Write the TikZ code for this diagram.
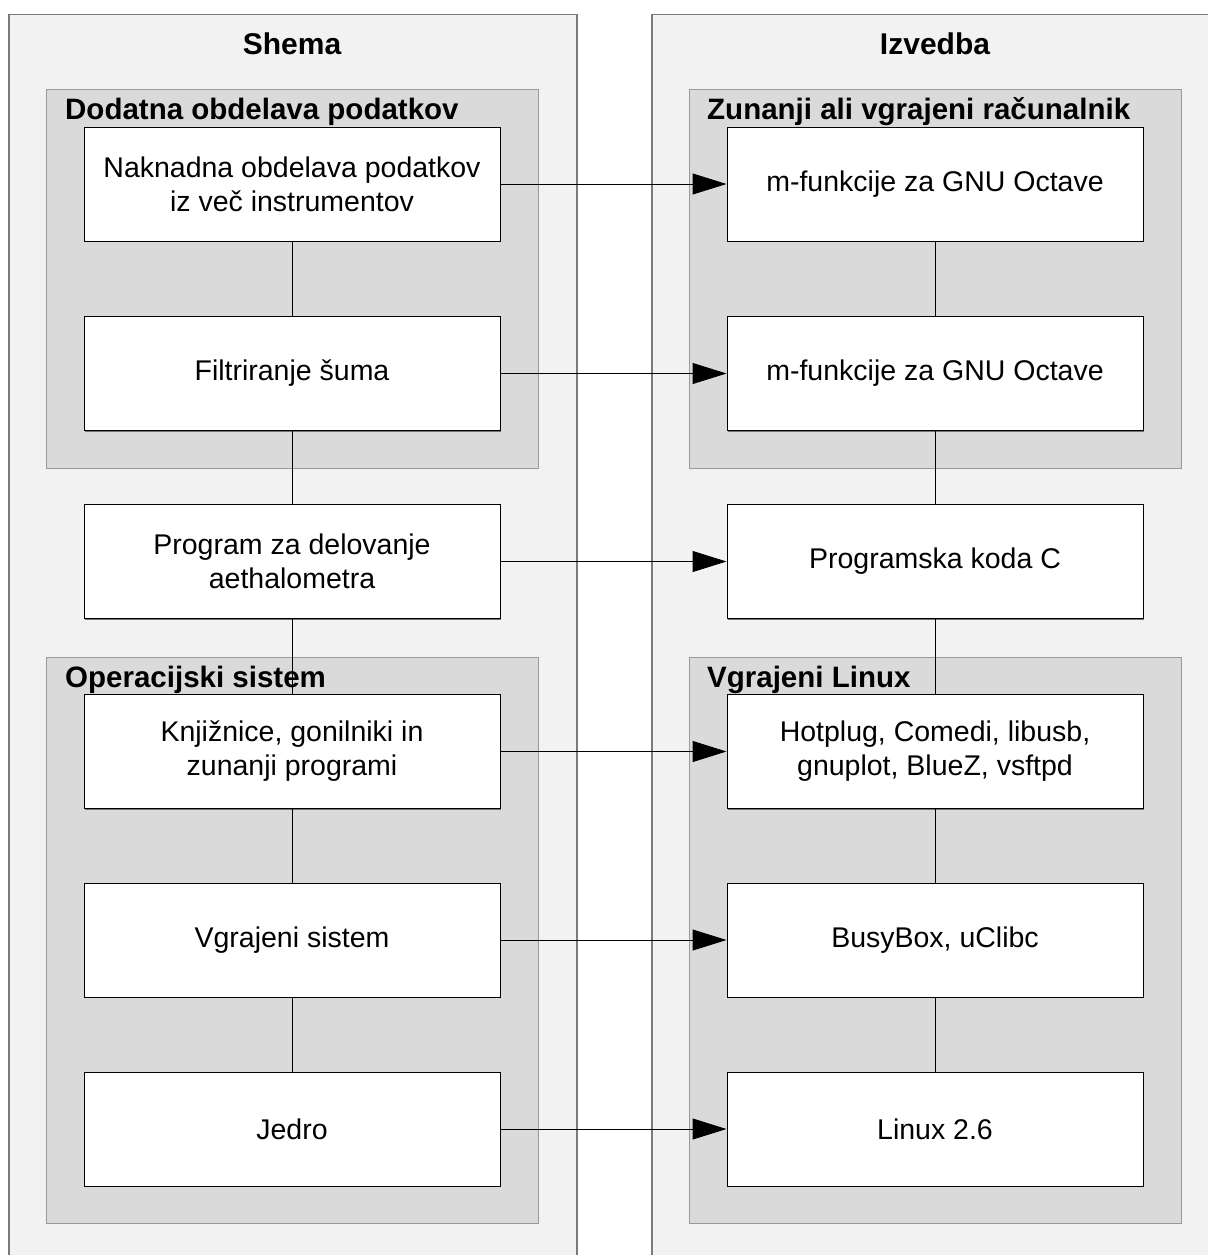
\documentclass[tikz,border=0pt]{standalone}
\usepackage{fontspec}
\setmainfont{Liberation Sans}
\usetikzlibrary{arrows.meta,shadows}
\definecolor{panelfill}{HTML}{F2F2F2}
\definecolor{panelline}{HTML}{7A7A7A}
\definecolor{grpfill}{HTML}{DADADA}
\definecolor{grpline}{HTML}{999999}
\begin{document}
\begin{tikzpicture}[x=1pt,y=-1pt,
  panel/.style={draw=panelline, line width=1.5pt, fill=panelfill, anchor=north west, inner sep=0pt, minimum width=568pt, minimum height=1270pt},
  grp/.style={draw=grpline, line width=1pt, fill=grpfill, anchor=north west, inner sep=0pt, minimum width=492pt},
  box/.style={draw=black, line width=1pt, fill=white, minimum width=416pt, minimum height=114pt, align=center, inner sep=0pt,
    font=\fontsize{28.5}{34}\selectfont,
    drop shadow={shadow xshift=1.2pt, shadow yshift=-1.2pt, fill=black!55, opacity=1}},
  title/.style={font=\bfseries\fontsize{30}{36}\selectfont, anchor=base, inner sep=0pt},
  glabel/.style={font=\bfseries\fontsize{29.5}{35}\selectfont, anchor=base west, inner sep=0pt},
  conn/.style={draw=black, line width=1pt},
  arr/.style={conn, -{Triangle[length=34pt,width=21pt]}}]
\clip (0,0) rectangle (1208,1255);
\fill[white] (0,0) rectangle (1208,1255);
% panels
\node[panel] (pL) at (8,14) {};
\node[panel] (pR) at (651,14) {};
\node[title] (tL) at (292,55) {Shema};
\node[title] (tR) at (935,55) {Izvedba};
% groups
\node[grp, minimum height=379pt] (gL1) at (46,89) {};
\node[grp, minimum height=566pt] (gL2) at (46,657) {};
\node[grp, minimum height=379pt] (gR1) at (689,89) {};
\node[grp, minimum height=566pt] (gR2) at (689,657) {};
\node[glabel] (gL1t) at (65,119) {Dodatna obdelava podatkov};
\node[glabel] (gR1t) at (707,119) {Zunanji ali vgrajeni računalnik};
\node[glabel] (gL2t) at (65,687) {Operacijski sistem};
\node[glabel] (gR2t) at (707,687) {Vgrajeni Linux};
% left boxes
\node[box] (l1) at (292,184) {Naknadna obdelava podatkov\\iz več instrumentov};
\node[box] (l2) at (292,373.5) {Filtriranje šuma};
\node[box] (l3) at (292,561.5) {Program za delovanje\\aethalometra};
\node[box] (l4) at (292,751.5) {Knjižnice, gonilniki in\\zunanji programi};
\node[box] (l5) at (292,940) {Vgrajeni sistem};
\node[box] (l6) at (292,1129) {Jedro};
% right boxes
\node[box] (r1) at (935,184) {m-funkcije za GNU Octave};
\node[box] (r2) at (935,373.5) {m-funkcije za GNU Octave};
\node[box] (r3) at (935,561.5) {Programska koda C};
\node[box] (r4) at (935,751.5) {Hotplug, Comedi, libusb,\\gnuplot, BlueZ, vsftpd};
\node[box] (r5) at (935,940) {BusyBox, uClibc};
\node[box] (r6) at (935,1129) {Linux 2.6};
% vertical connectors
\draw[conn] (l1) -- (l2);
\draw[conn] (l2) -- (l3);
\draw[conn] (l3) -- (l4);
\draw[conn] (l4) -- (l5);
\draw[conn] (l5) -- (l6);
\draw[conn] (r1) -- (r2);
\draw[conn] (r2) -- (r3);
\draw[conn] (r3) -- (r4);
\draw[conn] (r4) -- (r5);
\draw[conn] (r5) -- (r6);
% arrows
\draw[arr] (l1) -- (r1);
\draw[arr] (l2) -- (r2);
\draw[arr] (l3) -- (r3);
\draw[arr] (l4) -- (r4);
\draw[arr] (l5) -- (r5);
\draw[arr] (l6) -- (r6);
\end{tikzpicture}
\end{document}
